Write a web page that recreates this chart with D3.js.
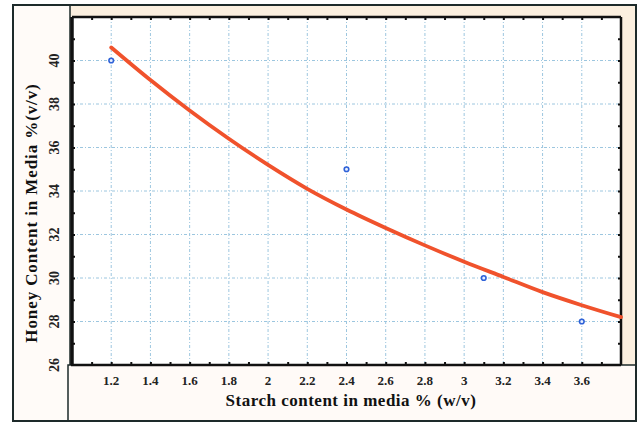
<!DOCTYPE html>
<html><head><meta charset="utf-8">
<script src="https://cdn.jsdelivr.net/npm/d3@7"></script>
<style>html,body{margin:0;padding:0;background:#fff;}svg{display:block;}</style>
</head><body>
<svg id="c" width="639" height="423"></svg>
<script>
// Data
const starch = [1.2, 2.4, 3.1, 3.6];
const honey = [40, 35, 30, 28];
const fitX = [1.2, 1.4, 1.6, 1.8, 2.0, 2.2, 2.4, 2.6, 2.8, 3.0, 3.2, 3.4, 3.6, 3.8];
const fitY = [40.6, 39.1, 37.7, 36.4, 35.2, 34.1, 33.15, 32.3, 31.5, 30.75, 30.05, 29.35, 28.75, 28.2];
const xTickLabels = [1.2, 1.4, 1.6, 1.8, 2, 2.2, 2.4, 2.6, 2.8, 3, 3.2, 3.4, 3.6];
const yTickLabels = [26, 28, 30, 32, 34, 36, 38, 40];
const xTitle = "Starch content in media % (w/v)";
const yTitle = "Honey Content in Media %(v/v)";

const svg = d3.select("#c");
const L = 72, R = 621, T = 17, B = 365;
const x = d3.scaleLinear().domain([1.0, 3.8]).range([L, R]);
const y = d3.scaleLinear().domain([26, 42]).range([B, T]);

// panels
svg.append("rect").attr("x",13).attr("y",5).attr("width",623).attr("height",416).attr("fill","#fffbf8");
svg.append("rect").attr("x",70).attr("y",5).attr("width",566).attr("height",12).attr("fill","#fbefdf");
svg.append("rect").attr("x",R).attr("y",5).attr("width",636-R).attr("height",B-5).attr("fill","#fbefdf");
svg.append("rect").attr("x",L).attr("y",T).attr("width",R-L).attr("height",B-T).attr("fill","#ffffff");
svg.append("rect").attr("x",68).attr("y",B).attr("width",568).attr("height",421-B).attr("fill","#fffaf7").attr("stroke","#1d2a2a").attr("stroke-width",1.5);
svg.append("line").attr("x1",70).attr("x2",70).attr("y1",5).attr("y2",B).attr("stroke","#1d2a2a").attr("stroke-width",1.5);
svg.append("rect").attr("x",13).attr("y",5).attr("width",623).attr("height",416).attr("fill","none").attr("stroke","#1d2a2a").attr("stroke-width",2);

// grid
const g = svg.append("g");
g.selectAll(".gx").data(xTickLabels).enter().append("line")
  .attr("x1",d=>x(d)).attr("x2",d=>x(d)).attr("y1",T).attr("y2",B)
  .attr("stroke","#9cc6df").attr("stroke-width",1).attr("stroke-dasharray","3,2,1,2");
g.selectAll(".gy").data(yTickLabels.filter(d=>d>26)).enter().append("line")
  .attr("y1",d=>y(d)).attr("y2",d=>y(d)).attr("x1",L).attr("x2",R)
  .attr("stroke","#9cc6df").attr("stroke-width",1).attr("stroke-dasharray","3,2,1,2");

// axes with inward minor ticks
const xMinor = d3.range(11, 38).map(v=>v/10);
const yMinor = d3.range(27, 42);
const ax = svg.append("g");
ax.append("g").attr("transform",`translate(0,${B})`).call(d3.axisTop(x).tickValues(xMinor).tickSize(3).tickFormat(""));
ax.append("g").attr("transform",`translate(0,${T})`).call(d3.axisBottom(x).tickValues(xMinor).tickSize(3).tickFormat(""));
ax.append("g").attr("transform",`translate(${L},0)`).call(d3.axisRight(y).tickValues(yMinor).tickSize(3).tickFormat(""));
ax.append("g").attr("transform",`translate(${R},0)`).call(d3.axisLeft(y).tickValues(yMinor).tickSize(3).tickFormat(""));
ax.selectAll(".domain").remove();
ax.selectAll(".tick line").attr("stroke","#111").attr("stroke-width",2);
svg.append("line").attr("x1",L-1).attr("x2",R).attr("y1",B).attr("y2",B).attr("stroke","#111").attr("stroke-width",2.5);
svg.append("line").attr("x1",L).attr("x2",R).attr("y1",T).attr("y2",T).attr("stroke","#111").attr("stroke-width",2.5);
svg.append("line").attr("x1",L).attr("x2",L).attr("y1",T).attr("y2",B).attr("stroke","#111").attr("stroke-width",3.5);
svg.append("line").attr("x1",R).attr("x2",R).attr("y1",T).attr("y2",B).attr("stroke","#111").attr("stroke-width",2.5);

// tick labels
const font = "'Liberation Serif','Times New Roman',serif";
svg.selectAll(".xl").data(xTickLabels).enter().append("text")
  .attr("x",d=>x(d)).attr("y",385).attr("text-anchor","middle")
  .attr("font-family",font).attr("font-weight","bold").attr("font-size",13).attr("fill","#222")
  .text(d=>d);
svg.selectAll(".yl").data(yTickLabels).enter().append("text")
  .attr("transform",d=>`translate(59,${y(d)}) rotate(-90)`).attr("text-anchor","middle")
  .attr("font-family",font).attr("font-weight","bold").attr("font-size",14).attr("fill","#222")
  .text(d=>d);

// titles
svg.append("text").attr("x",351).attr("y",406).attr("text-anchor","middle")
  .attr("font-family",font).attr("font-weight","bold").attr("font-size",17).attr("letter-spacing",0.5)
  .attr("fill","#111").text(xTitle);
svg.append("text").attr("transform","translate(37,213) rotate(-90)").attr("text-anchor","middle")
  .attr("font-family",font).attr("font-weight","bold").attr("font-size",17).attr("letter-spacing",0.9)
  .attr("fill","#111").text(yTitle);

// fitted curve
svg.append("path").datum(fitX.map((v,i)=>[v, fitY[i]]))
  .attr("d", d3.line().x(d=>x(d[0])).y(d=>y(d[1])).curve(d3.curveMonotoneX))
  .attr("fill","none").attr("stroke","#f0522c").attr("stroke-width",3.8).attr("stroke-linecap","round");

// points
svg.selectAll(".pt").data(starch).enter().append("circle")
  .attr("cx",d=>x(d)).attr("cy",(d,i)=>y(honey[i])).attr("r",2.3)
  .attr("fill","#e8f0ff").attr("stroke","#2f62d8").attr("stroke-width",1.6);
</script>
</body></html>
